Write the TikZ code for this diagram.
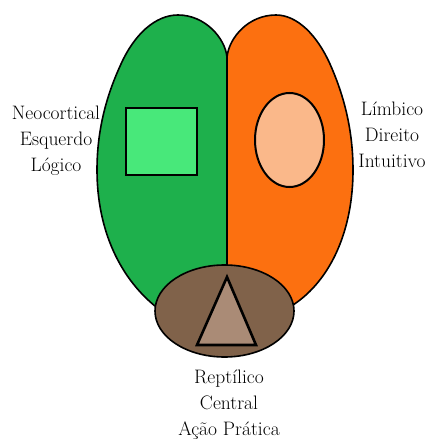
\documentclass[tikz,border=0pt]{standalone}
\usetikzlibrary{shapes.geometric}
\begin{document}
\begin{tikzpicture}[x=1pt,y=-1pt,
  lobe/.style={draw=black,line width=1.6pt,line join=round},
  inner/.style={draw=black,line width=2pt},
  lbl/.style={font=\fontsize{19.5}{26}\selectfont,align=center,inner sep=0pt}]
\definecolor{lgreen}{RGB}{30,176,76}
\definecolor{lorange}{RGB}{252,112,16}
\definecolor{sqgreen}{RGB}{72,232,122}
\definecolor{peach}{RGB}{250,184,138}
\definecolor{brownell}{RGB}{128,98,74}
\definecolor{trifill}{RGB}{170,139,118}
\useasboundingbox (0,0) rectangle (427,446);
% left lobe
\path[lobe,fill=lgreen] (227,57) .. controls (225,38) and (205,15) .. (178,15)
  .. controls (155,15) and (134,35) .. (121,64)
  .. controls (109,90) and (97,125) .. (97,170)
  .. controls (97,230) and (120,280) .. (160,310) -- (227,312) -- cycle;
% right lobe
\path[lobe,fill=lorange] (227,57) .. controls (229,38) and (248,15) .. (276,15)
  .. controls (297,15) and (317,35) .. (330,64)
  .. controls (341.5,90) and (353,125) .. (353,170)
  .. controls (353,230) and (331,280) .. (293,305) -- (227,312) -- cycle;
% square and circle
\node[inner,fill=sqgreen,minimum width=71pt,minimum height=67pt,inner sep=0pt] (sq) at (161.5,141.5) {};
\node[inner,fill=peach,ellipse,minimum width=69pt,minimum height=94pt,inner sep=0pt] (circ) at (289.5,140) {};
% reptilian
\node[lobe,fill=brownell,ellipse,minimum width=139pt,minimum height=92pt,inner sep=0pt] (repell) at (224.5,311) {};
\coordinate (ta) at (227,277);
\coordinate (tl) at (197,345);
\coordinate (tr) at (256,345);
\draw[line width=2.6pt,line join=miter,fill=trifill] (ta) -- (tl) -- (tr) -- cycle;
% labels
\node[lbl] (neo) at (56,141) {Neocortical\\Esquerdo\\Lógico};
\node[lbl] (lim) at (392,135) {Límbico\\Direito\\Intuitivo};
\node[lbl] (rep) at (229,405) {Reptílico\\Central\\Ação Prática};
\end{tikzpicture}
\end{document}
